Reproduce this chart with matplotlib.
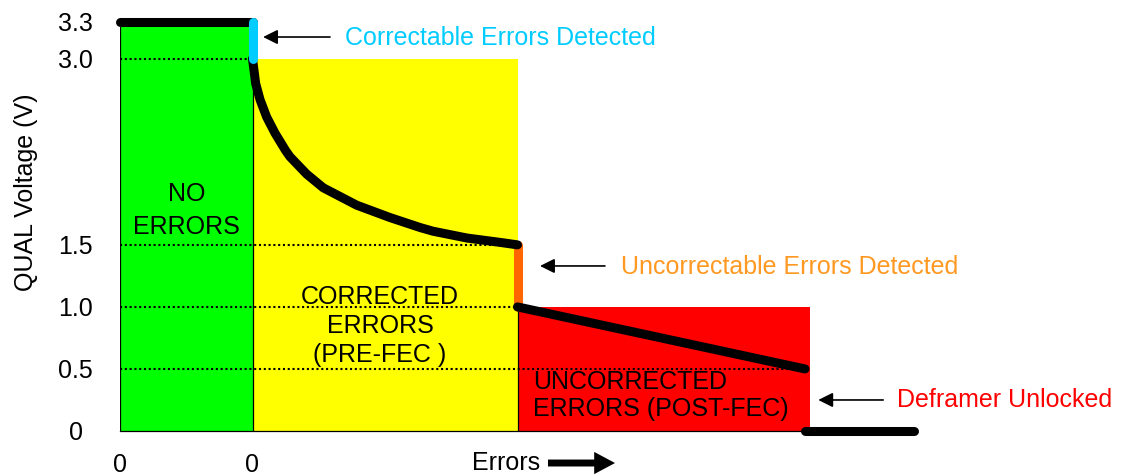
import matplotlib
matplotlib.use("Agg")
import matplotlib.pyplot as plt
from matplotlib.patches import Rectangle

plt.rcParams['font.family'] = ['Liberation Sans', 'DejaVu Sans']

# ---------------- data ----------------
zone_names = ["NO\nERRORS", "CORRECTED\nERRORS\n(PRE-FEC )", "UNCORRECTED\nERRORS (POST-FEC)"]
zone_edges = [0.0, 1.0, 3.0, 5.21]
zone_heights = [3.3, 3.0, 1.0]
zone_colors = ["#00FF00", "#FFFF00", "#FF0000"]

no_err_x = [0.0, 1.0]
no_err_y = [3.3, 3.3]

correctable_x = [1.0, 1.0]
correctable_y = [3.3, 3.0]

curve_x = [1.0, 1.024, 1.057, 1.107, 1.17, 1.25, 1.283, 1.409, 1.534, 1.786,
           2.038, 2.264, 2.362, 2.619, 2.868, 3.0]
curve_y = [3.0, 2.80, 2.67, 2.53, 2.40, 2.26, 2.21, 2.07, 1.96, 1.82,
           1.72, 1.64, 1.61, 1.555, 1.52, 1.50]

uncorrectable_x = [3.0, 3.0]
uncorrectable_y = [1.5, 1.0]

post_x = [3.0, 5.17]
post_y = [1.0, 0.5]

unlock_x = [5.17, 5.99]
unlock_y = [0.0, 0.0]

ref_levels = [3.0, 1.5, 1.0, 0.5]
ref_ends = [1.0, 3.0, 3.0, 5.17]

ytick_vals = [0, 0.5, 1.0, 1.5, 3.0, 3.3]
ytick_labels = ["0", "0.5", "1.0", "1.5", "3.0", "3.3"]
xtick_vals = [0, 1]
xtick_labels = ["0", "0"]

# ---------------- figure ----------------
W, H = 1122, 476
fig = plt.figure(figsize=(W / 100, H / 100), dpi=100)
ax = fig.add_axes([120 / W, 45 / H, 1000 / W, 409.5 / H])
ax.set_xlim(0, 1000 / 132.5)
ax.set_ylim(0, 3.3)
for s in ax.spines.values():
    s.set_visible(False)

FS = 18

# zones
for i in range(3):
    ax.add_patch(Rectangle((zone_edges[i], 0), zone_edges[i + 1] - zone_edges[i],
                           zone_heights[i], facecolor=zone_colors[i], edgecolor='none',
                           zorder=1))
    ax.plot([zone_edges[i], zone_edges[i]], [0, zone_heights[i]], color='black',
            lw=0.9, zorder=2)
ax.plot([zone_edges[0], zone_edges[-1]], [0, 0], color='black', lw=0.9, zorder=2,
        clip_on=False)

# dotted reference lines
for lvl, end in zip(ref_levels, ref_ends):
    ax.plot([0, end], [lvl, lvl], color='black', lw=1.5, ls=(0, (1, 1.3)), zorder=3)

# zone texts
ax.text((zone_edges[0] + zone_edges[1]) / 2, 1.775, zone_names[0], ha='center',
        va='center', fontsize=FS, zorder=4, linespacing=1.5)
ax.text(1.962, 0.846, zone_names[1], ha='center', va='center', fontsize=FS, zorder=4,
        linespacing=1.26)
ax.text(3.117, 0.286, zone_names[2], ha='left', va='center', fontsize=FS, zorder=4,
        linespacing=1.2)

LW = 6.5
# uncorrectable (orange) under black
ax.plot(uncorrectable_x, uncorrectable_y, color='#FF6600', lw=LW,
        solid_capstyle='round', zorder=5, clip_on=False)
for xs, ys in [(no_err_x, no_err_y), (curve_x, curve_y), (post_x, post_y),
               (unlock_x, unlock_y)]:
    ax.plot(xs, ys, color='black', lw=LW, solid_capstyle='round',
            solid_joinstyle='round', zorder=6, clip_on=False)
ax.plot(correctable_x, correctable_y, color='#00CCFF', lw=LW, solid_capstyle='round',
        zorder=7, clip_on=False)

# annotations
arrow_kw = dict(arrowstyle='-|>', color='black', lw=1.2, mutation_scale=22,
                shrinkA=0, shrinkB=0)
ax.annotate('', xy=(1.08, 3.175), xytext=(1.585, 3.175), arrowprops=arrow_kw,
            annotation_clip=False)
ax.text(1.70, 3.167, 'Correctable Errors Detected', color='#00CCFF', fontsize=FS,
        va='center', ha='left')
ax.annotate('', xy=(3.17, 1.33), xytext=(3.66, 1.33), arrowprops=arrow_kw,
            annotation_clip=False)
ax.text(3.78, 1.32, 'Uncorrectable Errors Detected', color='#FF9922', fontsize=FS,
        va='center', ha='left')
ax.annotate('', xy=(5.27, 0.25), xytext=(5.76, 0.25), arrowprops=arrow_kw,
            annotation_clip=False)
ax.text(5.864, 0.25, 'Deframer Unlocked', color='#FF0000', fontsize=FS,
        va='center', ha='left')

# ticks
ax.set_yticks(ytick_vals)
ax.set_yticklabels(ytick_labels, fontsize=FS)
for lab in ax.get_yticklabels():
    lab.set_horizontalalignment('center')
ax.tick_params(axis='y', length=0, pad=32)
ax.set_xticks(xtick_vals)
ax.set_xticklabels(xtick_labels, fontsize=FS)
ax.tick_params(axis='x', length=0, pad=16)

ax.set_ylabel('QUAL Voltage (V)', fontsize=FS)
ax.yaxis.set_label_coords(-0.082, 0.584)

# Errors label with arrow
ax.text(2.913, -0.258, 'Errors', fontsize=FS, ha='center', va='center', clip_on=False)
ax.annotate('', xy=(3.736, -0.258), xytext=(3.23, -0.258),
            arrowprops=dict(arrowstyle='simple,head_length=0.75,head_width=0.8,tail_width=0.25',
                            color='black', lw=0, mutation_scale=20, shrinkA=0, shrinkB=0),
            annotation_clip=False)

fig.savefig('out.png', dpi=100)
